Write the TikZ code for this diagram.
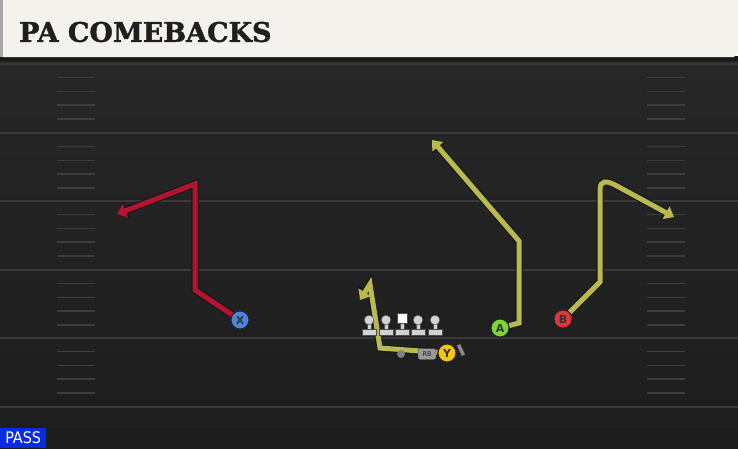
\documentclass[tikz,border=0pt]{standalone}
\usepackage{fontspec}
\usetikzlibrary{arrows.meta}
\newfontfamily\titlefont{DejaVu Serif}[BoldFeatures={FakeBold=1.6}]
\newfontfamily\labelfont{DejaVu Sans}
\newfontfamily\tagfont{DejaVu Sans Condensed}
\definecolor{fieldtop}{HTML}{272727}
\definecolor{fieldbot}{HTML}{1D1D1D}
\definecolor{yardline}{HTML}{3A3A3A}
\definecolor{hashmark}{HTML}{3D3D3D}
\definecolor{banner}{HTML}{F4F2EC}
\definecolor{routered}{HTML}{B5132F}
\definecolor{routeyel}{HTML}{B8B94E}
\definecolor{playblue}{HTML}{4A86E0}
\definecolor{playgreen}{HTML}{7BD634}
\definecolor{playred}{HTML}{E0353F}
\definecolor{playyel}{HTML}{F3C614}
\definecolor{passblue}{HTML}{0B2BE0}
\definecolor{lmgray}{HTML}{D2D2D2}
\tikzset{
  player/.style={circle, draw=black!85, line width=1pt, minimum size=18pt, inner sep=0pt,
    font=\labelfont\bfseries\fontsize{11}{11}\selectfont, text=black!80},
  routeline/.style={line width=5pt, -{Triangle[length=9pt,width=14pt]}},
  routeedge/.style={line width=7.5pt, draw=black!90, -{Triangle[length=11pt,width=18pt]}},
  lineman/.pic={
    \fill[lmgray, draw=black!70, line width=0.4pt] (-7,9) rectangle (7,15);
    \fill[lmgray, draw=black!70, line width=0.4pt] (-2,2) rectangle (2,9.5);
    \fill[lmgray, draw=black!70, line width=0.4pt] (0,0) circle (4.8);
  }
}
\begin{document}
\begin{tikzpicture}[x=1pt, y=-1pt]
  \useasboundingbox (0,0) rectangle (738,448);
  % field
  \shade[top color=fieldtop, bottom color=fieldbot] (0,58) rectangle (738,448);
  \foreach \y in {64,133,201,270,338,407}
    \draw[yardline, line width=1.8pt] (0,\y) -- (738,\y);
  \foreach \y in {64,133,201,270,338}
    \foreach \k in {1,...,4} {
      \draw[hashmark, line width=1.5pt] (57,\y+\k*13.7) -- (95,\y+\k*13.7);
      \draw[hashmark, line width=1.5pt] (647,\y+\k*13.7) -- (685,\y+\k*13.7);
    }
  % banner
  \fill[black!90] (0,56) rectangle (738,61);
  \fill[banner] (3,0) -- (738,0) -- (738,52) -- (734,57) -- (3,57) -- cycle;
  \fill[black!35] (0,0) rectangle (3,57);
  \node[anchor=west, inner sep=0pt, text=black!88,
    font=\titlefont\bfseries\fontsize{27}{27}\selectfont] (title) at (19,32) {PA COMEBACKS};

  % players
  \node[player, fill=playblue] (X) at (240,320) {X};
  \node[player, fill=playgreen] (A) at (500,328) {A};
  \node[player, fill=playred] (B) at (563,319) {B};
  \node[player, fill=playyel] (Y) at (447,353) {Y};

  % route corners
  \coordinate (xa) at (195,290); \coordinate (xb) at (195,184); \coordinate (xend) at (117,214);
  \coordinate (ya) at (380,348); \coordinate (yb) at (370,284); \coordinate (yend) at (360,300);
  \coordinate (aa) at (519,323); \coordinate (ab) at (519,241); \coordinate (aend) at (432,140);
  \coordinate (ba) at (600,282); \coordinate (bb) at (600,190); \coordinate (bend) at (674,217);

  % routes
  \draw[routeedge] (X) -- (xa) -- (xb) -- (xend);
  \draw[routeline, routered] (X) -- (xa) -- (xb) -- (xend);
  \draw[routeedge] (Y) -- (ya) -- (yb) -- (yend);
  \draw[routeline, routeyel] (Y) -- (ya) -- (yb) -- (yend);
  \draw[routeedge] (A) -- (aa) -- (ab) -- (aend);
  \draw[routeline, routeyel] (A) -- (aa) -- (ab) -- (aend);
  \draw[routeedge] (B) -- (ba) -- (bb) .. controls (600,180) and (606,180) .. (617,186) -- (bend);
  \draw[routeline, routeyel] (B) -- (ba) -- (bb) .. controls (600,180) and (606,180) .. (617,186) -- (bend);

  % redraw players on top of routes
  \node[player, fill=playblue] at (X) {X};
  \node[player, fill=playgreen] at (A) {A};
  \node[player, fill=playred] at (B) {B};

  % line
  \foreach \x in {369,386,418,435}
    \pic at (\x,320) {lineman};
  \fill[lmgray, draw=black!70, line width=0.4pt] (395,329) rectangle (409,335);
  \fill[lmgray, draw=black!70, line width=0.4pt] (400,322) rectangle (404,329.5);
  \fill[white, draw=black!70, line width=0.4pt] (397,313) rectangle (407,323);

  % backfield
  \node[circle, fill=black!50, minimum size=8pt, inner sep=0pt] (qb) at (401,354) {};
  \node[rounded corners=2pt, fill=black!40, draw=black!80, line width=0.4pt, minimum width=18pt,
    minimum height=11pt, inner sep=0pt, text=black!85,
    font=\labelfont\fontsize{6.5}{6.5}\selectfont] (rb) at (427,354) {RB};
  \node[player, fill=playyel] at (Y) {Y};
  \fill[black!45, draw=black!80, line width=0.4pt, rotate around={25:(461,350)}]
    (459,344) rectangle (463,356);

  % play type
  \node[fill=passblue, text=white, anchor=south west, minimum width=46pt, minimum height=20pt,
    inner sep=0pt, font=\tagfont\fontsize{16}{16}\selectfont] (pass) at (0,448) {PASS};
\end{tikzpicture}
\end{document}
